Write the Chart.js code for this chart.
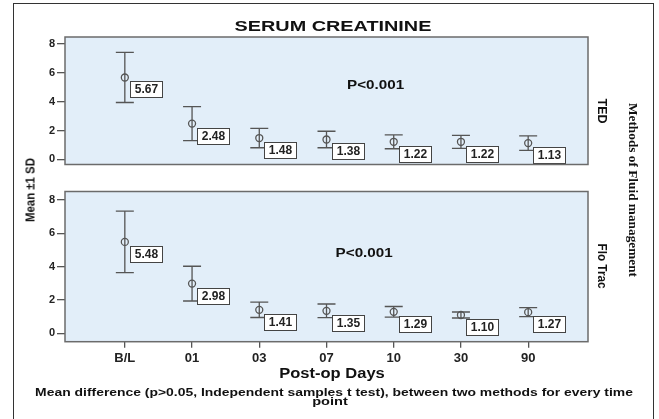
<!DOCTYPE html>
<html>
<head>
<meta charset="utf-8">
<script src="https://cdn.jsdelivr.net/npm/chart.js@4/dist/chart.umd.min.js"></script>
<style>
  body { margin: 0; background: #fff; }
  #wrap { position: relative; width: 659px; height: 419px; overflow: hidden; background: #fff; }
  #wrap canvas { position: absolute; left: 0; top: 0; }
  .frame { position: absolute; left: 13px; top: 3px; width: 641px; height: 430px;
           border: 1.5px solid #333; border-bottom: none; box-sizing: border-box; }
  .txt { position: absolute; white-space: nowrap; line-height: 1; color: #111; }
</style>
</head>
<body>
<div id="wrap">
  <div class="frame"></div>
  <canvas id="ted" width="659" height="419"></canvas>
  <canvas id="flo" width="659" height="419"></canvas>
</div>
<script>
// data
const days = ["B/L", "01", "03", "07", "10", "30", "90"];
const yTicks = [0, 2, 4, 6, 8];

const tedMean = [5.67, 2.48, 1.48, 1.38, 1.22, 1.22, 1.13];
const tedSD = [1.73, 1.18, 0.67, 0.57, 0.48, 0.45, 0.5];

const floMean = [5.48, 2.98, 1.41, 1.35, 1.29, 1.10, 1.27];
const floSD = [1.84, 1.04, 0.46, 0.41, 0.32, 0.18, 0.27];

const INK = "#555";
const FONT = '"Liberation Sans", Arial, sans-serif';

// draws panel background, error bars, value boxes and the p value
const panelPlugin = {
  id: "panel",
  beforeDraw(chart) {
    const a = chart.chartArea, ctx = chart.ctx;
    ctx.save();
    ctx.fillStyle = "#e2eef9";
    ctx.fillRect(a.left, a.top, a.right - a.left, a.bottom - a.top);
    ctx.restore();
  },
  beforeDatasetsDraw(chart, args, opts) {
    const ctx = chart.ctx, xs = chart.scales.x, ys = chart.scales.y;
    ctx.save();
    ctx.strokeStyle = INK;
    ctx.lineWidth = 1.3;
    opts.means.forEach((m, i) => {
      const xp = xs.getPixelForValue(i);
      const hi = ys.getPixelForValue(m + opts.sds[i]);
      const lo = ys.getPixelForValue(m - opts.sds[i]);
      ctx.beginPath();
      ctx.moveTo(xp, hi); ctx.lineTo(xp, lo);
      ctx.moveTo(xp - 9, hi); ctx.lineTo(xp + 9, hi);
      ctx.moveTo(xp - 9, lo); ctx.lineTo(xp + 9, lo);
      ctx.stroke();
    });
    ctx.restore();
  },
  afterDatasetsDraw(chart, args, opts) {
    const ctx = chart.ctx, xs = chart.scales.x, ys = chart.scales.y, a = chart.chartArea;
    ctx.save();
    ctx.font = "bold 12px " + FONT;
    ctx.textAlign = "center";
    ctx.textBaseline = "middle";
    opts.means.forEach((m, i) => {
      const xp = xs.getPixelForValue(i), yp = ys.getPixelForValue(m);
      const bx = Math.round(xp + 5) + 0.5, by = Math.round(yp + 4) + 0.5;
      ctx.fillStyle = "#fff";
      ctx.fillRect(bx, by, 32, 16);
      ctx.strokeStyle = "#444";
      ctx.lineWidth = 1;
      ctx.strokeRect(bx, by, 32, 16);
      ctx.fillStyle = "#222";
      ctx.fillText(m.toFixed(2), bx + 16, by + 8.5);
    });
    // p value
    ctx.font = "bold 13px " + FONT;
    ctx.translate(xs.getPixelForValue(opts.pAt[0]), ys.getPixelForValue(opts.pAt[1]));
    ctx.scale(1.17, 1);
    ctx.fillStyle = "#111";
    ctx.fillText("P<0.001", 0, 0);
    ctx.restore();
    // panel frame
    ctx.save();
    ctx.strokeStyle = "#6b6b6b";
    ctx.lineWidth = 1.5;
    ctx.strokeRect(a.left, a.top, a.right - a.left, a.bottom - a.top);
    ctx.restore();
  }
};

function makePanel(id, means, sds, pAt, showX, padTop, padBottom, yMin, yMax) {
  return new Chart(document.getElementById(id), {
    type: "scatter",
    data: {
      datasets: [{
        data: means.map((m, i) => ({ x: i, y: m })),
        pointRadius: 3.5,
        pointBorderWidth: 1.3,
        pointBorderColor: INK,
        pointBackgroundColor: "rgba(0,0,0,0)",
        showLine: false
      }]
    },
    options: {
      responsive: false,
      animation: false,
      events: [],
      layout: { padding: { left: 35, right: 71, top: padTop, bottom: padBottom } },
      plugins: {
        legend: { display: false },
        tooltip: { enabled: false },
        panel: { means: means, sds: sds, pAt: pAt }
      },
      scales: {
        x: {
          type: "linear",
          display: showX,
          min: -0.89,
          max: 6.89,
          afterBuildTicks: (s) => { s.ticks = days.map((d, i) => ({ value: i })); },
          afterFit: (s) => { s.height = 22; },
          ticks: {
            autoSkip: false,
            maxRotation: 0,
            padding: 3,
            color: "#222",
            font: { family: FONT, size: 13, weight: "bold" },
            callback: (v) => days[v]
          },
          grid: { drawOnChartArea: false, tickLength: 6, color: INK, lineWidth: 1.3 },
          border: { display: false }
        },
        y: {
          min: yMin,
          max: yMax,
          afterBuildTicks: (s) => { s.ticks = yTicks.map((v) => ({ value: v })); },
          afterFit: (s) => { s.width = 30; },
          ticks: {
            padding: 2,
            color: "#222",
            font: { family: FONT, size: 11, weight: "bold" }
          },
          grid: { drawOnChartArea: false, tickLength: 8, color: INK, lineWidth: 1.3 },
          border: { display: false }
        }
      }
    },
    plugins: [panelPlugin]
  });
}

makePanel("ted", tedMean, tedSD, [3.73, 5.1], false, 37, 232.5, -0.35, 8.47);
makePanel("flo", floMean, floSD, [3.56, 4.8], true, 191.5, 55.3, -0.5, 8.5);

// text around the panels, stretched to the widths in the figure
function addText(txt, cx, cy, font, width, rot) {
  const el = document.createElement("div");
  el.className = "txt";
  el.style.font = font;
  el.textContent = txt;
  document.getElementById("wrap").appendChild(el);
  const k = width / el.offsetWidth;
  el.style.left = cx + "px";
  el.style.top = cy + "px";
  el.style.transform = "translate(-50%,-50%) rotate(" + (rot || 0) + "deg) scaleX(" + k + ")";
}

addText("SERUM CREATININE", 333, 25, "bold 15px " + FONT, 197);
addText("Mean \u00b11 SD", 30, 190, "bold 13px " + FONT, 64, -90);
addText("TED", 602, 111, "bold 12px " + FONT, 25, 90);
addText("Flo Trac", 602, 266, "bold 12px " + FONT, 45, 90);
addText("Methods of Fluid management", 633, 190, 'bold 13px "Liberation Serif", "Times New Roman", serif', 174, 90);
addText("Post-op Days", 332, 373, "bold 14px " + FONT, 105);
addText("Mean difference (p>0.05, Independent samples t test), between two methods for every time", 334, 392, "bold 10px " + FONT, 598);
addText("point", 330, 401, "bold 10px " + FONT, 35);
</script>
</body>
</html>
